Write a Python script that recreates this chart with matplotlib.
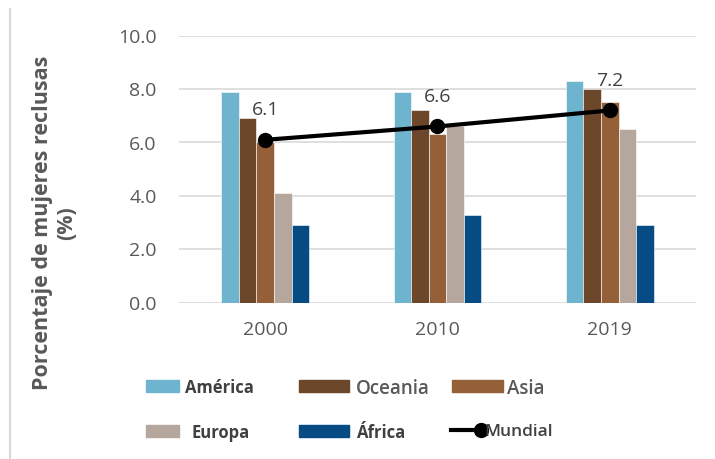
import numpy as np
import matplotlib
matplotlib.use("Agg")
import matplotlib.pyplot as plt
from matplotlib.patches import Rectangle
from matplotlib.lines import Line2D

# data
years = ["2000", "2010", "2019"]
regions = ["América", "Oceania", "Asia", "Europa", "África"]
america = [7.9, 7.9, 8.3]
oceania = [6.9, 7.2, 8.0]
asia = [6.0, 6.3, 7.5]
europa = [4.1, 6.6, 6.5]
africa = [2.9, 3.3, 2.9]
mundial = [6.1, 6.6, 7.2]

series = [america, oceania, asia, europa, africa]
colors = ["#6FB4CE", "#6C4729", "#955F37", "#B5A69E", "#074B85"]

plt.rcParams['font.family'] = ['Open Sans', 'DejaVu Sans']

W, H = 715, 459
fig = plt.figure(figsize=(W / 100, H / 100), dpi=100)
ax = fig.add_axes([179 / W, 1 - 302.7 / H, 517 / W, 267 / H])

x = np.arange(len(years))
bar_w = 0.102
for i, (vals, col) in enumerate(zip(series, colors)):
    ax.bar(x + (i - 2) * bar_w, vals, bar_w, color=col,
           edgecolor="white", linewidth=0.4, zorder=2)

ax.plot(x, mundial, color="black", lw=3, marker="o", ms=10, zorder=3)
for xi, v in zip(x, mundial):
    ax.annotate(f"{v:.1f}", (xi, v), xytext=(0, 15), textcoords="offset points",
                ha="center", va="bottom", fontsize=14, color="#404040")

# axes styling
ax.set_xlim(-0.5, 2.5)
ax.set_ylim(0, 10)
ax.set_yticks(np.arange(0, 10.1, 2))
ax.set_yticklabels([f"{t:.1f}" for t in np.arange(0, 10.1, 2)])
ax.set_xticks(x)
ax.set_xticklabels(years)
ax.tick_params(length=0, labelsize=14, labelcolor="#595959")
ax.tick_params(axis="y", pad=16)
ax.tick_params(axis="x", pad=13)
ax.grid(axis="y", color="#D9D9D9", lw=1.2, zorder=0)
ax.set_axisbelow(True)
for s in ax.spines.values():
    s.set_visible(False)

fig.text(55 / W, 1 - 223 / H, "Porcentaje de mujeres reclusas\n(%)",
         rotation=90, ha="center", va="center", multialignment="center",
         fontsize=15.5, fontweight="bold", color="#595959", linespacing=1.2)

# left border of the chart area
fig.add_artist(Line2D([10 / W, 10 / W], [1 - 458 / H, 1 - 9 / H], color="#D9D9D9", lw=1.5))

# legend, laid out manually like the original
legend_items = [
    # label, color, patch x0, patch x1, text x, row y, bold
    ("América", colors[0], 146, 179, 185, 386, True),
    ("Oceania", colors[1], 299, 349, 356, 386, False),
    ("Asia", colors[2], 452, 503, 507, 386, False),
    ("Europa", colors[3], 146, 179, 191, 431, True),
    ("África", colors[4], 299, 349, 356, 431, True),
]
for lab, col, x0, x1, tx, ry, bold in legend_items:
    fig.add_artist(Rectangle((x0 / W, 1 - (ry + 6) / H), (x1 - x0) / W, 12 / H,
                             color=col, transform=fig.transFigure))
    fig.text(tx / W, 1 - ry / H, lab, ha="left", va="center_baseline",
             fontsize=12 if bold else 13.5,
             fontweight="bold" if bold else "semibold",
             color="#404040" if bold else "#595959")

fig.add_artist(Line2D([451 / W, 481 / W], [1 - 430 / H, 1 - 430 / H], color="black",
                      lw=3, marker="o", ms=10, markevery=[1]))
fig.text(484 / W, 1 - 430 / H, "Mundial", ha="left", va="center_baseline",
         fontsize=12.5, fontweight="semibold", color="#404040")

fig.savefig("out.png", dpi=100)
